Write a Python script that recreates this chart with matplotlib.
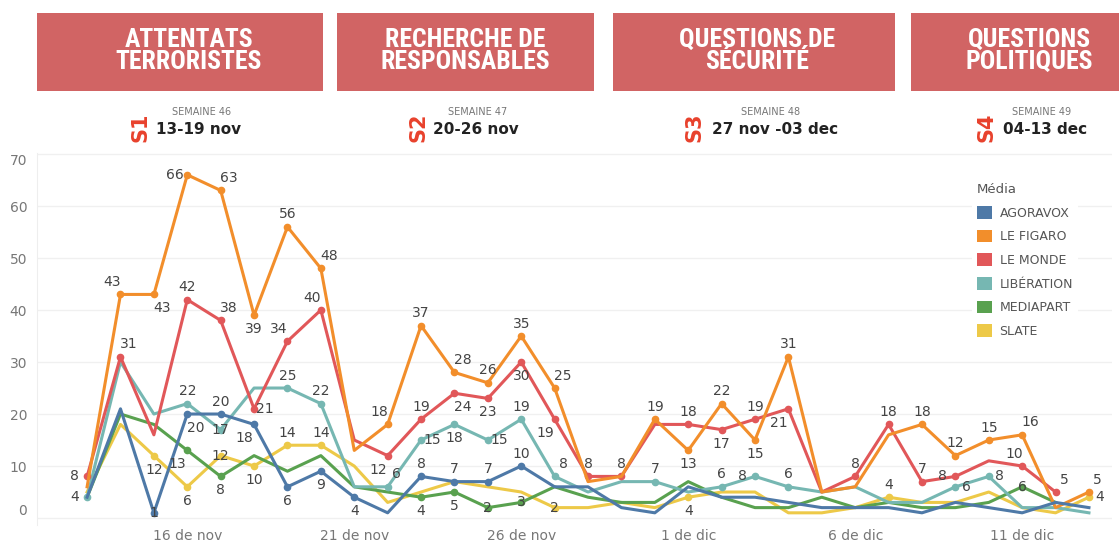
import numpy as np
import pandas as pd
import matplotlib
matplotlib.use('Agg')
import matplotlib.pyplot as plt
from matplotlib.patches import Rectangle, Patch
from matplotlib import font_manager

W, H = 1119, 542

# --- data ---
dates = pd.date_range('2015-11-13', '2015-12-13', freq='D')
media = ['AGORAVOX', 'LE FIGARO', 'LE MONDE', 'LIBÉRATION', 'MEDIAPART', 'SLATE']
agoravox   = [4, 21, 1, 20, 20, 18, 6, 9, 4, 1, 8, 7, 7, 10, 6, 6, 2, 1, 6, 4, 4, 3, 2, 2, 2, 1, 3, 2, 1, 3, 2]
le_figaro  = [6, 43, 43, 66, 63, 39, 56, 48, 13, 18, 37, 28, 26, 35, 25, 7, 8, 19, 13, 22, 15, 31, 5, 6, 16, 18, 12, 15, 16, 2, 5]
le_monde   = [8, 31, 16, 42, 38, 21, 34, 40, 15, 12, 19, 24, 23, 30, 19, 8, 8, 18, 18, 17, 19, 21, 5, 8, 18, 7, 8, 11, 10, 5, np.nan]
liberation = [4, 30, 20, 22, 17, 25, 25, 22, 6, 6, 15, 18, 15, 19, 8, 5, 7, 7, 5, 6, 8, 6, 5, 6, 3, 3, 6, 8, 2, 2, 1]
mediapart  = [4, 20, 18, 13, 8, 12, 9, 12, 6, 5, 4, 5, 2, 3, 6, 4, 3, 3, 7, 4, 2, 2, 4, 2, 3, 2, 2, 3, 6, 3, np.nan]
slate      = [5, 18, 12, 6, 12, 10, 14, 14, 10, 3, 5, 7, 6, 5, 2, 2, 3, 2, 4, 5, 5, 1, 1, 2, 4, 3, 3, 5, 2, 1, 4]
series = [agoravox, le_figaro, le_monde, liberation, mediapart, slate]

tick_dates = ['2015-11-16', '2015-11-21', '2015-11-26', '2015-12-01', '2015-12-06', '2015-12-11']
tick_labels = ['16 de nov', '21 de nov', '26 de nov', '1 de dic', '6 de dic', '11 de dic']

themes = ['ATTENTATS\nTERRORISTES', 'RECHERCHE DE\nRESPONSABLES', 'QUESTIONS DE\nSÉCURITÉ', 'QUESTIONS\nPOLITIQUES']
weeks = ['S1', 'S2', 'S3', 'S4']
week_nums = ['SEMAINE 46', 'SEMAINE 47', 'SEMAINE 48', 'SEMAINE 49']
week_dates = ['13-19 nov', '20-26 nov', '27 nov -03 dec', '04-13 dec']

# which points carry a value label, and where the label sits
labels = {
    'AGORAVOX':   [(2, 'c'), (3, 'br'), (4, 'a'), (5, 'bl'), (6, 'b'), (7, 'b'), (8, 'b'),
                   (10, 'a'), (11, 'a'), (12, 'a'), (13, 'a')],
    'LE FIGARO':  [(1, 'al'), (2, 'br'), (3, 'l'), (4, 'ar'), (5, 'b'), (6, 'a'), (7, 'ar'),
                   (9, 'al'), (10, 'a'), (11, 'ar'), (12, 'a'), (13, 'a'), (14, 'ar'), (17, 'a'),
                   (18, 'b'), (19, 'a'), (20, 'b'), (21, 'a'), (25, 'a'), (26, 'a'), (27, 'a'),
                   (28, 'ar'), (30, 'ar')],
    'LE MONDE':   [(0, 'l'), (1, 'ar'), (3, 'a'), (4, 'ar'), (5, 'r'), (6, 'al'), (7, 'al'),
                   (9, 'bl'), (10, 'a'), (11, 'br'), (12, 'b'), (13, 'b'), (14, 'bl'), (15, 'a'),
                   (16, 'a'), (18, 'a'), (19, 'b'), (20, 'a'), (21, 'bl'), (23, 'a'), (24, 'a'),
                   (25, 'a'), (26, 'l'), (28, 'al'), (29, 'ar')],
    'LIBÉRATION': [(0, 'l'), (3, 'a'), (4, 'c'), (6, 'a'), (7, 'a'), (9, 'ar'), (10, 'r'),
                   (11, 'b'), (12, 'r'), (13, 'a'), (14, 'ar'), (17, 'a'), (19, 'a'), (20, 'l'),
                   (21, 'a'), (26, 'r'), (27, 'r')],
    'MEDIAPART':  [(3, 'bl'), (4, 'b'), (10, 'b'), (11, 'b'), (12, 'c'), (13, 'c'), (28, 'c')],
    'SLATE':      [(2, 'b'), (3, 'b'), (4, 'c'), (5, 'b'), (6, 'a'), (7, 'a'), (14, 'c'),
                   (18, 'b'), (24, 'a'), (30, 'r')],
}

colors = ['#4e79a7', '#f28e2b', '#e15759', '#76b7b2', '#59a14f', '#edc948']
offsets = {'a': (0, 9), 'b': (0, -10), 'l': (-9, 0), 'r': (8, 0), 'c': (0, 0),
           'ar': (6, 9), 'al': (-6, 9), 'br': (6, -10), 'bl': (-7, -10)}

names = {f.name for f in font_manager.fontManager.ttflist}
head_font = next((f for f in ['Liberation Sans Narrow', 'DejaVu Sans Condensed', 'Roboto Condensed',
                              'Liberation Sans'] if f in names), 'DejaVu Sans')
narrow = 'Narrow' in head_font or 'Condensed' in head_font

fig = plt.figure(figsize=(W / 100, H / 100), dpi=100)


def px_rect(x0, y0, x1, y1):
    return [x0 / W, 1 - y1 / H, (x1 - x0) / W, (y1 - y0) / H]


# --- header boxes ---
box_x = [(37, 323), (337, 594), (613, 895), (911, 1125)]
text_x = [189, 465, 757, 1029]
for (x0, x1), tx, t in zip(box_x, text_x, themes):
    fig.add_artist(Rectangle((x0 / W, 1 - 91 / H), (x1 - x0) / W, 78 / H,
                             transform=fig.transFigure, color='#d16464', lw=0))
    fig.text(tx / W, 1 - 51 / H, t, ha='center', va='center', color='white',
             fontsize=18.5 if narrow else 15, fontweight='bold', family=head_font,
             linespacing=0.9)

s_x = [140, 419, 694, 986]
date_x = [156, 433, 712, 1003]
num_x = [202, 478, 771, 1042]
for sx, dx, nx, s, n, d in zip(s_x, date_x, num_x, weeks, week_nums, week_dates):
    fig.text(sx / W, 1 - 127 / H, s, rotation=90, ha='center', va='center',
             color='#e8412c', fontsize=15, fontweight='bold')
    fig.text(nx / W, 1 - 112 / H, n, ha='center', va='center', color='#777777', fontsize=7)
    fig.text(dx / W, 1 - 129 / H, d, ha='left', va='center', color='#222222',
             fontsize=11, fontweight='bold')

# --- chart ---
ax = fig.add_axes(px_rect(37, 153, 1112, 525.3))
order = [5, 4, 3, 2, 1, 0]
for i in order:
    name, ys, col = media[i], series[i], colors[i]
    idx = [k for k, _ in labels[name]]
    ax.plot(dates, ys, color=col, lw=2.2, marker='o', ms=4.5, markevery=idx,
            solid_joinstyle='round', zorder=3 + (5 - i) * 0.1)
    for k, pos in labels[name]:
        ax.annotate(f'{int(ys[k])}', (dates[k], ys[k]), xytext=offsets[pos],
                    textcoords='offset points', ha='center', va='center',
                    fontsize=10, color='#444444', zorder=5)

ax.set_ylim(-1.4, 70.2)
ax.set_xlim(dates[0] - pd.Timedelta(days=1.5), dates[-1] + pd.Timedelta(days=0.69))
ax.set_yticks(range(0, 71, 10))
ax.set_xticks(pd.to_datetime(tick_dates))
ax.set_xticklabels(tick_labels)
ax.tick_params(length=0, labelsize=10, colors='#777777')
ax.tick_params(axis='y', pad=7)
ax.tick_params(axis='x', pad=3)
yl = ax.get_yticklabels()
yl[0].set_va('bottom')
yl[-1].set_va('top')
ax.grid(axis='y', color='#f0f0f0', lw=1)
ax.set_axisbelow(True)
for sp in ['top', 'right', 'bottom']:
    ax.spines[sp].set_visible(False)
ax.spines['left'].set_color('#eeeeee')

handles = [Patch(facecolor=c, edgecolor='none', label=m) for c, m in zip(colors, media)]
leg = ax.legend(handles=handles, title='Média', loc='upper left',
                bbox_to_anchor=(972 / W, 1 - 178 / H), bbox_transform=fig.transFigure,
                frameon=True, fontsize=9, title_fontsize=9.5, handlelength=1.2,
                handleheight=1.2, handletextpad=0.6, labelspacing=0.8,
                borderpad=0.4, borderaxespad=0)
leg.get_frame().set_facecolor('white')
leg.get_frame().set_edgecolor('none')
leg.get_frame().set_alpha(1)
leg._legend_box.align = 'left'
for t in leg.get_texts():
    t.set_color('#555555')
leg.get_title().set_color('#555555')
leg.set_zorder(10)

fig.savefig('out.png', dpi=100, facecolor='white')
